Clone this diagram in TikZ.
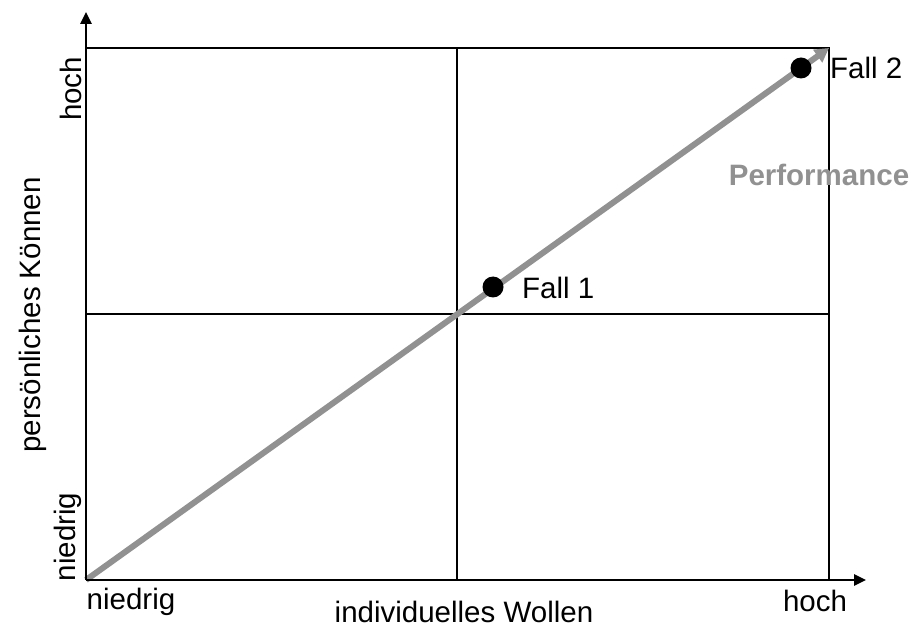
\documentclass[tikz,border=0pt]{standalone}
\usepackage{fontspec}
\setmainfont{Liberation Sans}
\usetikzlibrary{arrows.meta}
\definecolor{perfgrey}{RGB}{145,145,145}
\tikzset{
  axis/.style={line width=2.6pt,-{Triangle[length=12pt,width=11pt]}},
  gridline/.style={line width=1.8pt},
  lbl/.style={inner sep=0pt,font=\fontsize{29.5}{34}\selectfont},
  dotc/.style={circle,fill=black,inner sep=0pt,minimum size=21pt},
  perf/.style={line width=6pt,perfgrey,-{Triangle[length=14pt,width=15pt]}}
}
\begin{document}
\begin{tikzpicture}[x=1pt,y=-1pt]
\useasboundingbox (0,0) rectangle (913,628);
\coordinate (O) at (86,580);
\coordinate (Ytop) at (86,12);
\coordinate (Xend) at (866,580);
\coordinate (TL) at (86,48);
\coordinate (TR) at (829,48);
\coordinate (BR) at (829,580);
\coordinate (MT) at (457,48);
\coordinate (MB) at (457,580);
\coordinate (ML) at (86,314);
\coordinate (MR) at (829,314);
% grid
\draw[gridline] (TL) -- (TR) -- (BR);
\draw[gridline] (MT) -- (MB);
\draw[gridline] (ML) -- (MR);
% performance arrow
\draw[perf] (O) -- (TR);
% axes
\draw[axis] (O) -- (Ytop);
\draw[axis] (O) -- (Xend);
% points
\node[dotc] (f1) at (493,287) {};
\node[dotc] (f2) at (801,68) {};
\node[lbl,anchor=west] (f1l) at (522,288) {Fall 1};
\node[lbl,anchor=west] (f2l) at (830,68) {Fall 2};
\node[lbl,text=perfgrey,font=\fontsize{29.5}{34}\selectfont\bfseries] (perfl) at (819,175) {Performance};
% axis labels
\node[lbl,rotate=90] (yhoch) at (71,89) {hoch};
\node[lbl,rotate=90] (yname) at (33,315) {persönliches Können};
\node[lbl,rotate=90] (yniedrig) at (68,537) {niedrig};
\node[lbl] (xniedrig) at (131,602) {niedrig};
\node[lbl] (xname) at (464,612) {individuelles Wollen};
\node[lbl] (xhoch) at (815,601) {hoch};
\end{tikzpicture}
\end{document}
